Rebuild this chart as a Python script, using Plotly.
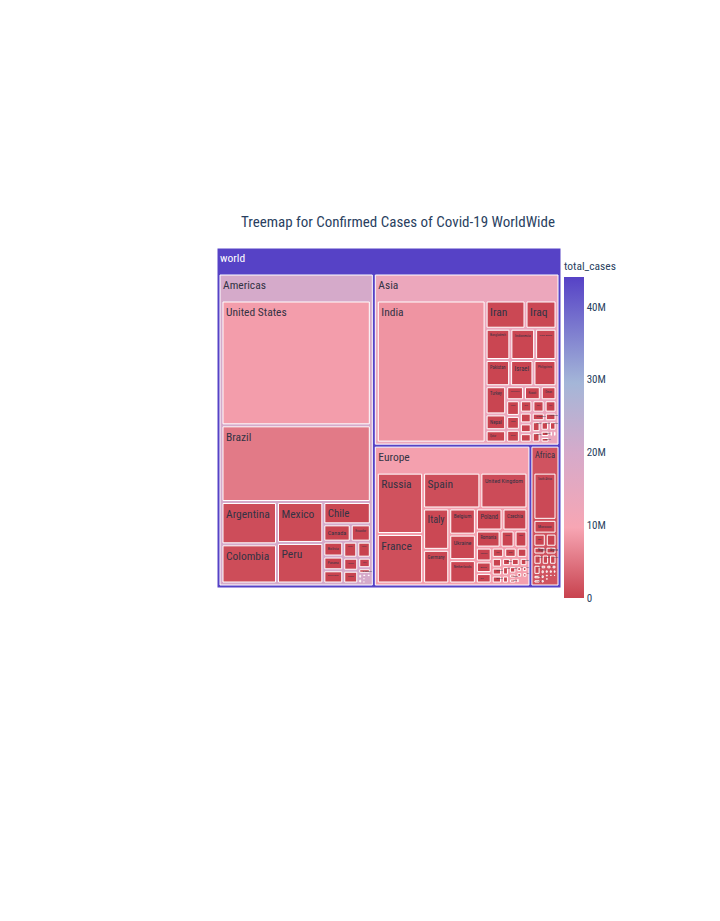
import plotly.graph_objects as go

# ---- data (total confirmed cases) ----
americas_countries = ["United States", "Brazil", "Argentina", "Colombia", "Mexico", "Peru", "Chile",
                      "Canada", "Ecuador", "Bolivia", "Panama", "Dominican Republic", "Guatemala",
                      "Costa Rica", "Honduras", "Venezuela", "Paraguay", "El Salvador", "Haiti",
                      "Jamaica", "Cuba", "Bahamas", "Trinidad and Tobago", "Nicaragua", "Suriname",
                      "Guyana", "Belize", "Uruguay"]
americas_cases = [8856000, 5439000, 1116000, 1033000, 901000, 892000, 504000,
                  225000, 165000, 141000, 130000, 125000, 107000,
                  103000, 93000, 91000, 63000, 33000, 9000,
                  9000, 6900, 6900, 5800, 5400, 5200,
                  4000, 3300, 2800]

asia_countries = ["India", "Iran", "Iraq", "Bangladesh", "Indonesia", "Saudi Arabia", "Pakistan",
                  "Israel", "Philippines", "Turkey", "Nepal", "Qatar", "United Arab Emirates",
                  "Kuwait", "Oman", "Kazakhstan", "Japan", "China", "Bahrain", "Armenia", "Lebanon",
                  "Uzbekistan", "Jordan", "Kyrgyzstan", "Singapore", "Palestine", "Azerbaijan",
                  "Myanmar", "Afghanistan", "Georgia", "Malaysia", "South Korea", "Tajikistan",
                  "Maldives", "Sri Lanka", "Syria", "Thailand", "Yemen", "Vietnam"]
asia_cases = [7990000, 582000, 452000, 401000, 400000, 346000, 332000,
              316000, 312000, 300000, 168000, 132000, 129000,
              122000, 114000, 111000, 98000, 91000, 80000, 78000, 76000,
              66000, 60000, 58000, 58000, 52000, 50000,
              48000, 41000, 37000, 29000, 26000, 11000,
              11000, 9000, 5000, 3700, 2000, 1200]

europe_countries = ["Russia", "France", "Spain", "United Kingdom", "Italy", "Germany", "Belgium",
                    "Ukraine", "Netherlands", "Poland", "Czechia", "Romania", "Portugal", "Sweden",
                    "Switzerland", "Belarus", "Austria", "Hungary", "Moldova", "Ireland", "Slovakia",
                    "Bulgaria", "Denmark", "Serbia", "Bosnia and Herzegovina", "Croatia", "Greece",
                    "North Macedonia", "Slovenia", "Albania", "Montenegro", "Norway", "Kosovo",
                    "Luxembourg", "Finland", "Lithuania", "Malta", "Iceland", "Estonia", "Andorra",
                    "Latvia", "Cyprus"]
europe_cases = [1550000, 1250000, 1120000, 920000, 590000, 480000, 380000,
                370000, 340000, 320000, 300000, 230000, 130000, 120000,
                120000, 100000, 90000, 70000, 70000, 60000, 55000,
                45000, 45000, 40000, 40000, 35000, 35000,
                30000, 30000, 20000, 20000, 18000, 18000,
                18000, 16000, 10000, 5000, 5000, 4500, 4500,
                3000, 3000]

africa_countries = ["South Africa", "Morocco", "Egypt", "Ethiopia", "Nigeria", "Algeria", "Libya",
                    "Kenya", "Tunisia", "Ghana", "Cameroon", "Cote d'Ivoire", "Madagascar", "Zambia",
                    "Senegal", "Sudan", "Namibia", "Mozambique", "Guinea", "Uganda",
                    "Democratic Republic of Congo", "Angola", "Gabon", "Zimbabwe", "Cape Verde",
                    "Mauritania", "Botswana", "Malawi", "Eswatini", "Rwanda", "Somalia", "Mali",
                    "Burkina Faso"]
africa_cases = [720000, 210000, 107000, 93000, 62000, 57000, 56000,
                50000, 50000, 48000, 21000, 20000, 17000, 16000,
                15000, 13700, 13000, 12000, 12000, 12000,
                11000, 10000, 8800, 8300, 8000,
                7600, 6000, 5800, 5800, 5000, 3900, 3500,
                2500]

root_label = "world"
continent_names = ["Americas", "Asia", "Europe", "Africa"]
continent_countries = [americas_countries, asia_countries, europe_countries, africa_countries]
continent_cases = [americas_cases, asia_cases, europe_cases, africa_cases]

colorscale = [[0.0, "rgb(200,66,78)"],
              [0.22, "rgb(247,166,180)"],
              [0.45, "rgb(214,170,202)"],
              [0.67, "rgb(164,182,216)"],
              [1.0, "rgb(86,66,198)"]]

# ---- build hierarchy (parents carry the sum of their children) ----
ids, labels, parents, values = [], [], [], []
world_total = sum(sum(v) for v in continent_cases)
ids.append(root_label); labels.append(root_label); parents.append(""); values.append(world_total)
for cont, names, vals in zip(continent_names, continent_countries, continent_cases):
    cid = f"{root_label}/{cont}"
    ids.append(cid); labels.append(cont); parents.append(root_label); values.append(sum(vals))
    for n, v in zip(names, vals):
        ids.append(f"{cid}/{n}"); labels.append(n); parents.append(cid); values.append(v)

text_colors = ["white"] + ["#333344"] * (len(ids) - 1)

FONT = "Roboto Condensed, Liberation Sans Narrow, DejaVu Sans Condensed, Roboto, sans-serif"

fig = go.Figure(go.Treemap(
    ids=ids, labels=labels, parents=parents, values=values,
    branchvalues="total",
    marker=dict(colors=values, coloraxis="coloraxis", pad=dict(t=27, l=3, r=3, b=3)),
    textfont=dict(color=text_colors, size=11.5, family=FONT),
    hovertemplate="labels=%{label}<br>total_cases=%{value}<extra></extra>",
))

fig.update_layout(
    width=704, height=905,
    margin=dict(l=209, r=151, t=240, b=325),
    font=dict(family=FONT, size=11.5, color="#2a3f5f"),
    title=dict(text="Treemap for Confirmed Cases of Covid-19 WorldWide",
               x=(398 - 8) / 704, xanchor="center", xref="container",
               y=1 - (222 - 8) / 905, yanchor="middle", yref="container",
               font=dict(size=15, family=FONT, color="#2a3f5f")),
    paper_bgcolor="white",
    coloraxis=dict(colorscale=colorscale, cmin=0,
                   colorbar=dict(thickness=20, x=1.0, xpad=3, tick0=0, dtick=10e6,
                                 lenmode="pixels", len=360, yanchor="top", y=1, ypad=10,
                                 tickfont=dict(size=11),
                                 title=dict(text="total_cases", font=dict(size=11.5)))),
)

fig.write_html("out.html")
